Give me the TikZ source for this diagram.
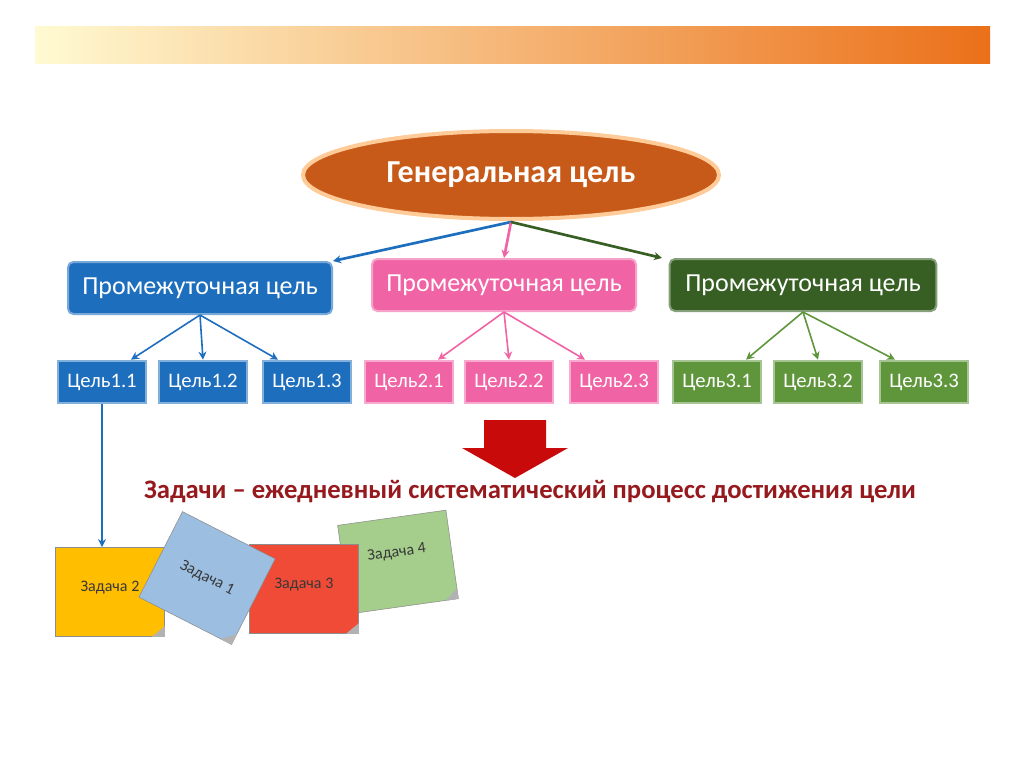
\documentclass[tikz,border=0pt]{standalone}
\usepackage{fontspec}
\setmainfont{Carlito}
\usetikzlibrary{shapes.geometric,arrows.meta,calc}
\definecolor{bB}{RGB}{30,110,190}
\definecolor{bP}{RGB}{240,100,165}
\definecolor{bG}{RGB}{55,95,35}
\definecolor{bG2}{RGB}{95,150,60}
\definecolor{bO}{RGB}{200,90,25}
\definecolor{dR}{RGB}{150,25,30}
\definecolor{nR}{RGB}{240,75,55}
\definecolor{nY}{RGB}{255,190,0}
\definecolor{nB}{RGB}{155,190,225}
\definecolor{nG}{RGB}{165,205,140}
\definecolor{aR}{RGB}{200,10,10}
\definecolor{barL}{RGB}{255,250,210}
\definecolor{barR}{RGB}{235,112,25}
\begin{document}
\begin{tikzpicture}[x=0.75pt,y=-0.75pt,
 mid/.style={draw=#1!60!white,line width=1.5pt,fill=#1,rounded corners=4pt,text=white,font=\fontsize{19.5}{22}\selectfont,minimum height=39pt,inner sep=0pt},
 small/.style={draw=#1!55!white,line width=1.5pt,fill=#1,text=white,font=\fontsize{15.5}{18}\selectfont,minimum width=66pt,minimum height=32pt,inner sep=0pt},
 arr/.style={draw=#1,line width=1.2pt,-{Stealth[length=6pt,width=6pt]}},
 note/.style={draw=black!45,fill=#1,minimum width=82pt,minimum height=67pt,inner sep=0pt,font=\fontsize{12}{14}\selectfont,text=black!78}]
\useasboundingbox (0,0) rectangle (1024,767);
\fill[white] (0,0) rectangle (1024,767);
\shade[left color=barL, right color=barR] (35,27) rectangle (990,64);
\node[ellipse,fill=bO,draw=orange!40,line width=3pt,minimum width=312pt,minimum height=66pt,text=white,font=\bfseries\fontsize{24}{28}\selectfont] (g) at (511,175) {Генеральная цель};
\node[mid=bB,minimum width=198pt] (m1) at (200,288) {Промежуточная цель};
\node[mid=bP,minimum width=198pt] (m2) at (504,285) {Промежуточная цель};
\node[mid=bG,minimum width=200pt] (m3) at (803,285) {Промежуточная цель};
\node[small=bB] (c11) at (102,382) {Цель1.1};
\node[small=bB] (c12) at (203,382) {Цель1.2};
\node[small=bB] (c13) at (307,382) {Цель1.3};
\node[small=bP] (c21) at (409,382) {Цель2.1};
\node[small=bP] (c22) at (509,382) {Цель2.2};
\node[small=bP] (c23) at (614,382) {Цель2.3};
\node[small=bG2] (c31) at (717,382) {Цель3.1};
\node[small=bG2] (c32) at (818,382) {Цель3.2};
\node[small=bG2] (c33) at (924,382) {Цель3.3};
\coordinate (gs) at (511,222);
\draw[arr=bB,line width=2pt] (gs) -- (m1.north east);
\draw[arr=bP,line width=2pt] (gs) -- (m2.north);
\draw[arr=bG,line width=2pt] (gs) -- ([xshift=-5pt]m3.north west);
\foreach \m/\a/\b/\c/\col in {m1/c11/c12/c13/bB,m2/c21/c22/c23/bP,m3/c31/c32/c33/bG2}{
 \draw[arr=\col] (\m.south) -- ([xshift=-12pt]\a.north east);
 \draw[arr=\col] (\m.south) -- (\b.north);
 \draw[arr=\col] (\m.south) -- ([xshift=12pt]\c.north west);
}
\node[note=nG,rotate=8] (t4) at (398,562) {\raisebox{16pt}{Задача 4}};
\node[note=nR] (t3) at (304,589) {\raisebox{8pt}{Задача 3}};
\node[note=nY] (t2) at (110,592) {\raisebox{8pt}{Задача 2}};
\node[note=nB,minimum width=78pt,minimum height=72pt,rotate=-27] (t1) at (207,578) {Задача 1};
\foreach \t in {t1,t2,t3,t4}{\fill[black!30] (\t.south east) -- ($(\t.south east)!0.12!(\t.north east)$) -- ($(\t.south east)!0.12!(\t.south west)$) -- cycle;}
\draw[arr=bB,line width=2pt] (c11.south) -- (c11.south |- t2.north);
\fill[aR] (484,420) -- (546,420) -- (546,448) -- (568,448) -- (515,478) -- (462,448) -- (484,448) -- cycle;
\node[font=\bfseries\fontsize{20}{24}\selectfont,text=dR] (tx) at (530,492) {Задачи – ежедневный систематический процесс достижения цели};
\end{tikzpicture}
\end{document}
